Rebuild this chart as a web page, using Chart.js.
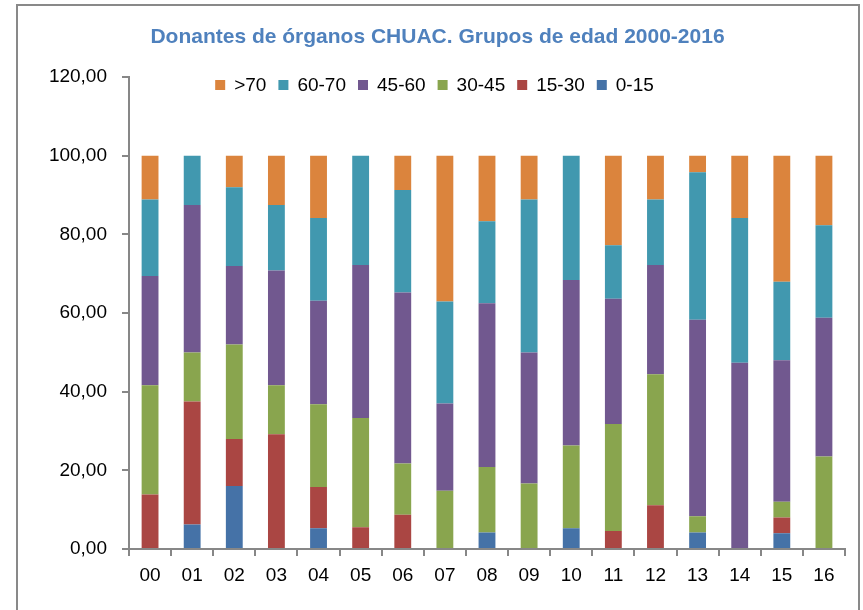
<!DOCTYPE html>
<html>
<head>
<meta charset="utf-8">
<script src="https://cdn.jsdelivr.net/npm/chart.js@4/dist/chart.umd.min.js"></script>
<style>
    html, body { margin: 0; padding: 0; background: #fff; overflow: hidden; width: 863px; height: 610px; }
    #wrap { position: absolute; left: 30px; top: 0; width: 863px; height: 610px; }
    #frame { position: absolute; left: 16px; top: 4px; width: 840px; height: 700px; border: 2px solid #898989; pointer-events: none; }
</style>
</head>
<body>
<div id="wrap"><canvas id="chart" width="863" height="610"></canvas></div>
<div id="frame"></div>
<script>
    // Categories (years 2000-2016)
    const years = ['00', '01', '02', '03', '04', '05', '06', '07', '08', '09', '10', '11', '12', '13', '14', '15', '16'];

    // Percentage of donors per age group
    const age0_15  = [0, 6.25, 16, 0, 5.26, 0, 0, 0, 4.17, 0, 5.26, 0, 0, 4.17, 0, 4, 0];
    const age15_30 = [13.89, 31.25, 12, 29.17, 10.53, 5.56, 8.70, 0, 0, 0, 0, 4.55, 11.11, 0, 0, 4, 0];
    const age30_45 = [27.78, 12.5, 24, 12.5, 21.05, 27.78, 13.04, 14.81, 16.67, 16.67, 21.05, 27.27, 33.33, 4.17, 0, 4, 23.53];
    const age45_60 = [27.78, 37.5, 20, 29.17, 26.32, 38.89, 43.48, 22.22, 41.67, 33.33, 42.11, 31.82, 27.78, 50, 47.37, 36, 35.29];
    const age60_70 = [19.44, 12.5, 20, 16.67, 21.05, 27.78, 26.09, 25.93, 20.83, 38.89, 31.58, 13.64, 16.67, 37.5, 36.84, 20, 23.53];
    const age70    = [11.11, 0, 8, 12.5, 15.79, 0, 8.70, 37.04, 16.67, 11.11, 0, 22.73, 11.11, 4.17, 15.79, 32, 17.65];

    // Y axis tick values
    const yTicks = [0, 20, 40, 60, 80, 100, 120];

    const FONT = 'Liberation Sans, Arial, sans-serif';

    function makeSet(label, data, color) {
        return {
            label: label,
            data: data,
            backgroundColor: color,
            borderWidth: 0,
            barPercentage: 0.40,
            categoryPercentage: 1.0
        };
    }

    // Legend drawn by hand so it can sit inside the plot area (reverse order like the original)
    const insideLegend = {
        id: 'insideLegend',
        afterDraw(chart) {
            const ctx = chart.ctx;
            const sets = chart.data.datasets.slice().reverse();
            ctx.save();
            ctx.font = '19px ' + FONT;
            ctx.textBaseline = 'middle';
            ctx.textAlign = 'left';
            const box = 10, gapText = 9, gapItem = 12;
            let total = 0;
            sets.forEach((ds, i) => {
                total += box + gapText + ctx.measureText(ds.label).width;
                if (i < sets.length - 1) total += gapItem;
            });
            let x = chart.width / 2 - 27 - total / 2;
            const y = 85;
            sets.forEach(ds => {
                ctx.fillStyle = ds.backgroundColor;
                ctx.fillRect(x, y - box / 2, box, box);
                x += box + gapText;
                ctx.fillStyle = '#000';
                ctx.fillText(ds.label, x, y + 1);
                x += ctx.measureText(ds.label).width + gapItem;
            });
            ctx.restore();
        }
    };

    new Chart(document.getElementById('chart'), {
        type: 'bar',
        data: {
            labels: years,
            datasets: [
                makeSet('0-15', age0_15, '#4572A7'),
                makeSet('15-30', age15_30, '#AA4643'),
                makeSet('30-45', age30_45, '#89A54E'),
                makeSet('45-60', age45_60, '#71588F'),
                makeSet('60-70', age60_70, '#4198AF'),
                makeSet('>70', age70, '#DB843D')
            ]
        },
        options: {
            responsive: false,
            animation: false,
            layout: { padding: { left: 0, right: 48, top: 0, bottom: 0 } },
            plugins: {
                legend: { display: false },
                tooltip: { enabled: false },
                title: {
                    display: true,
                    text: 'Donantes de órganos CHUAC. Grupos de edad 2000-2016',
                    color: '#4F81BD',
                    font: { family: FONT, size: 21, weight: 'bold' },
                    padding: { top: 25, bottom: 27 }
                }
            },
            scales: {
                x: {
                    stacked: true,
                    afterFit: s => { s.height = 61; },
                    grid: { drawOnChartArea: false, drawTicks: true, tickLength: 7, color: '#878787', lineWidth: 2 },
                    border: { display: true, color: '#878787', width: 2 },
                    ticks: { color: '#000', font: { family: FONT, size: 19 }, padding: 8, maxRotation: 0, autoSkip: false }
                },
                y: {
                    stacked: true,
                    min: 0,
                    max: 120,
                    afterFit: s => { s.width = 99; },
                    afterBuildTicks: s => { s.ticks = yTicks.map(v => ({ value: v })); },
                    grid: { drawOnChartArea: false, drawTicks: true, tickLength: 7, color: '#878787', lineWidth: 2 },
                    border: { display: true, color: '#878787', width: 2 },
                    ticks: {
                        color: '#000',
                        font: { family: FONT, size: 19 },
                        padding: 15,
                        callback: v => v.toFixed(2).replace('.', ',')
                    }
                }
            }
        },
        plugins: [insideLegend]
    });
</script>
</body>
</html>
